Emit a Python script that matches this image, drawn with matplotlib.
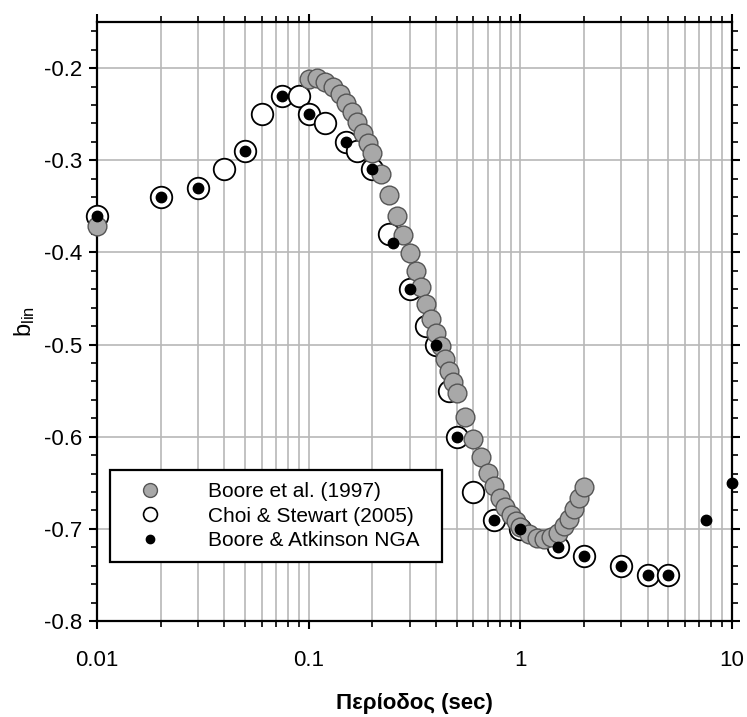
import numpy as np
import matplotlib
matplotlib.use("Agg")
import matplotlib.pyplot as plt
from matplotlib.ticker import LogLocator, MultipleLocator, FixedLocator, NullFormatter
from matplotlib.lines import Line2D

plt.rcParams["font.family"] = ["Liberation Sans", "DejaVu Sans"]
plt.rcParams["axes.unicode_minus"] = False

# Boore et al. (1997) - grey filled circles (PGA plotted at 0.01 s)
boore97_T = [0.01, 0.10, 0.11, 0.12, 0.13, 0.14, 0.15, 0.16, 0.17, 0.18, 0.19, 0.20,
             0.22, 0.24, 0.26, 0.28, 0.30, 0.32, 0.34, 0.36, 0.38, 0.40, 0.42, 0.44,
             0.46, 0.48, 0.50, 0.55, 0.60, 0.65, 0.70, 0.75, 0.80, 0.85, 0.90, 0.95,
             1.00, 1.10, 1.20, 1.30, 1.40, 1.50, 1.60, 1.70, 1.80, 1.90, 2.00]
boore97_b = [-0.371, -0.212, -0.211, -0.215, -0.221, -0.228, -0.238, -0.248, -0.258,
             -0.270, -0.281, -0.292, -0.315, -0.338, -0.360, -0.381, -0.401, -0.420,
             -0.438, -0.456, -0.472, -0.487, -0.502, -0.516, -0.529, -0.541, -0.553,
             -0.579, -0.602, -0.622, -0.639, -0.653, -0.666, -0.676, -0.685, -0.692,
             -0.698, -0.706, -0.710, -0.711, -0.709, -0.704, -0.697, -0.689, -0.679,
             -0.667, -0.655]

# Choi & Stewart (2005) - open circles
choi_T = [0.01, 0.02, 0.03, 0.04, 0.05, 0.06, 0.075, 0.09, 0.10, 0.12, 0.15, 0.17,
          0.20, 0.24, 0.30, 0.36, 0.40, 0.46, 0.50, 0.60, 0.75, 1.00, 1.50, 2.00,
          3.00, 4.00, 5.00]
choi_b = [-0.36, -0.34, -0.33, -0.31, -0.29, -0.25, -0.23, -0.23, -0.25, -0.26, -0.28,
          -0.29, -0.31, -0.38, -0.44, -0.48, -0.50, -0.55, -0.60, -0.66, -0.69, -0.70,
          -0.72, -0.73, -0.74, -0.75, -0.75]

# Boore & Atkinson NGA - small black dots
nga_T = [0.01, 0.02, 0.03, 0.05, 0.075, 0.10, 0.15, 0.20, 0.25, 0.30, 0.40, 0.50,
         0.75, 1.00, 1.50, 2.00, 3.00, 4.00, 5.00, 7.50, 10.0]
nga_b = [-0.36, -0.34, -0.33, -0.29, -0.23, -0.25, -0.28, -0.31, -0.39, -0.44, -0.50,
         -0.60, -0.69, -0.70, -0.72, -0.73, -0.74, -0.75, -0.75, -0.69, -0.65]

labels = ["Boore et al. (1997)", "Choi & Stewart (2005)", "Boore & Atkinson NGA"]
grey = "#a8a8a8"

fig = plt.figure(figsize=(7.47, 7.17), dpi=100)
ax = fig.add_axes([0.1299, 0.1339, 0.85, 0.8354])

ax.plot(choi_T, choi_b, "o", ms=15.5, mfc="white", mec="black", mew=1.3, ls="none",
        zorder=3, clip_on=False)
ax.plot(boore97_T, boore97_b, "o", ms=13.5, mfc=grey, mec="#555555", mew=1.0, ls="none",
        zorder=4, clip_on=False)
ax.plot(nga_T, nga_b, "o", ms=7.5, mfc="black", mec="black", ls="none", zorder=5, clip_on=False)

ax.set_xscale("log")
ax.set_xlim(0.01, 10)
ax.set_ylim(-0.8, -0.15)

ax.xaxis.set_major_locator(FixedLocator([0.01, 0.1, 1, 10]))
ax.set_xticklabels(["0.01", "0.1", "1", "10"])
ax.xaxis.set_minor_locator(LogLocator(base=10, subs=np.arange(2, 10)))
ax.xaxis.set_minor_formatter(NullFormatter())
ax.yaxis.set_minor_locator(MultipleLocator(0.02))
yt = np.round(np.arange(-0.8, -0.19, 0.1), 1)
ax.set_yticks(yt)
ax.set_yticklabels([f"{v:.1f}" for v in yt])

ax.grid(True, which="major", color="#b8b8b8", lw=1.2, zorder=0)
ax.grid(True, which="minor", axis="x", color="#b8b8b8", lw=1.2, zorder=0)
ax.set_axisbelow(True)

ax.tick_params(which="both", direction="out", top=True, right=True, colors="black")
ax.tick_params(which="major", length=6, width=1.5, labelsize=16)
ax.tick_params(which="minor", length=4.5, width=1.2)
ax.tick_params(axis="x", which="major", pad=15)
ax.tick_params(axis="y", which="major", pad=5)
for s in ax.spines.values():
    s.set_linewidth(1.6)

ax.set_xlabel("Περίοδος (sec)", fontsize=16, fontweight="bold", labelpad=16)
ax.set_ylabel(r"$\mathregular{b_{lin}}$", fontsize=17, labelpad=5)

handles = [
    Line2D([], [], marker="o", ls="none", ms=10, mfc=grey, mec="#555555", mew=1.0),
    Line2D([], [], marker="o", ls="none", ms=10, mfc="white", mec="black", mew=1.2),
    Line2D([], [], marker="o", ls="none", ms=6, mfc="black", mec="black"),
]
leg = ax.legend(handles, labels, loc="lower left", bbox_to_anchor=(0.02, 0.098, 0.523, 0.26),
                mode="expand", fontsize=15, frameon=True, fancybox=False, framealpha=1,
                edgecolor="black", borderpad=0.6, labelspacing=0.25, handletextpad=1.4,
                handlelength=2.7, borderaxespad=0)
leg.get_frame().set_linewidth(1.6)
leg.set_zorder(10)

fig.savefig("out.png", dpi=100, facecolor="white")
